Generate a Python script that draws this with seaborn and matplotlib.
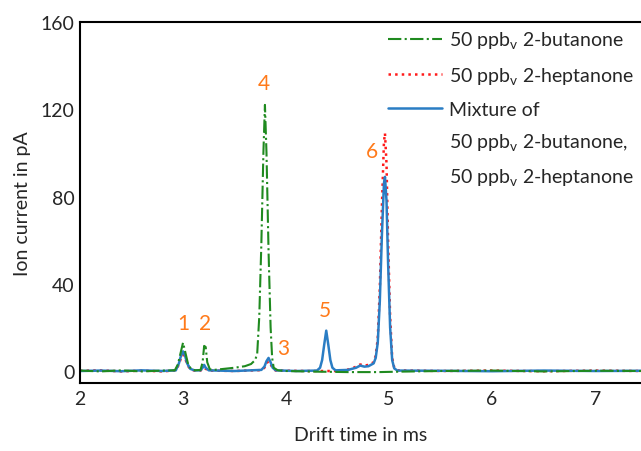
import pandas as pd
import matplotlib
matplotlib.use('Agg')
import matplotlib.pyplot as plt
import seaborn as sns
from matplotlib.lines import Line2D

# Spektren (Drift time in ms, Ion current in pA)
butanone_x = [2.0, 2.2, 2.4, 2.6, 2.8, 2.92, 2.95, 2.975, 3.0, 3.025, 3.05, 3.08, 3.12,
              3.17, 3.19, 3.205, 3.22, 3.235, 3.26, 3.3, 3.4, 3.5, 3.6, 3.66, 3.7,
              3.72, 3.74, 3.76, 3.78, 3.795, 3.81, 3.83, 3.85, 3.865, 3.88, 3.92,
              4.0, 4.3, 4.6, 4.9, 5.1, 5.5, 6.0, 6.5, 7.0, 7.45]
butanone_y = [0.2, -0.2, 0.3, -0.2, 0.2, 0.3, 3.0, 8.0, 13.0, 8.0, 3.0, 0.8, 0.3,
              0.5, 4.0, 11.5, 11.0, 4.0, 0.8, 0.5, 1.0, 1.5, 2.2, 3.2, 5.0,
              8.0, 25.0, 58.0, 100.0, 122.0, 100.0, 55.0, 20.0, 6.0, 1.5, 0.3,
              0.0, -0.3, -0.5, -0.5, -0.3, 0.0, 0.2, -0.2, 0.1, 0.0]

heptanone_x = [2.0, 2.2, 2.4, 2.6, 2.8, 2.93, 2.96, 2.98, 3.0, 3.02, 3.04, 3.07,
               3.11, 3.17, 3.19, 3.205, 3.22, 3.25, 3.5, 3.76, 3.79, 3.81, 3.83,
               3.85, 3.87, 3.9, 4.2, 4.5, 4.62, 4.68, 4.72, 4.76, 4.8, 4.85, 4.87,
               4.89, 4.91, 4.93, 4.95, 4.96, 4.975, 4.99, 5.01, 5.03, 5.05, 5.08,
               5.5, 6.0, 6.5, 7.0, 7.45]
heptanone_y = [0.1, 0.3, -0.2, 0.2, -0.2, 0.3, 3.0, 6.0, 7.5, 6.0, 3.0, 0.8,
               0.2, 0.2, 1.0, 1.5, 1.0, 0.2, 0.0, 0.4, 1.5, 3.5, 4.5,
               3.2, 1.2, 0.2, 0.0, 0.0, 0.8, 2.0, 3.0, 2.5, 2.8, 4.0, 7.0,
               15.0, 38.0, 75.0, 105.0, 109.0, 95.0, 60.0, 25.0, 6.0, 1.5, 0.3,
               0.0, 0.2, -0.1, 0.2, 0.0]

mixture_x = [2.0, 2.2, 2.4, 2.6, 2.8, 2.93, 2.96, 2.98, 3.0, 3.02, 3.04, 3.07,
             3.11, 3.17, 3.19, 3.205, 3.22, 3.25, 3.5, 3.76, 3.79, 3.81, 3.83,
             3.85, 3.87, 3.9, 4.1, 4.3, 4.33, 4.35, 4.37, 4.39, 4.41, 4.43, 4.45,
             4.48, 4.6, 4.68, 4.72, 4.76, 4.8, 4.85, 4.87, 4.89, 4.91, 4.93,
             4.95, 4.96, 4.975, 4.99, 5.01, 5.03, 5.05, 5.08, 5.5, 6.0, 6.5,
             7.0, 7.45]
mixture_y = [0.0, 0.2, -0.1, 0.3, 0.0, 0.3, 3.5, 7.0, 9.0, 7.0, 3.5, 1.0,
             0.3, 0.3, 1.5, 2.8, 1.5, 0.3, 0.0, 0.5, 2.0, 4.5, 6.0,
             4.0, 1.5, 0.3, 0.0, 0.2, 1.5, 5.0, 12.0, 18.5, 12.0, 5.0, 1.5,
             0.3, 0.5, 1.5, 2.5, 2.0, 2.2, 3.5, 6.0, 13.0, 32.0, 62.0,
             86.0, 89.0, 78.0, 50.0, 20.0, 5.0, 1.2, 0.2, 0.1, -0.1, 0.2,
             0.0, 0.1]

peak_labels = ['1', '2', '3', '4', '5', '6']
peak_label_x = [3.0, 3.21, 3.97, 3.78, 4.38, 4.83]
peak_label_y = [22, 22, 10.5, 132, 28, 101]

legend_labels = ['50 ppb$_\\mathrm{v}$ 2-butanone',
                 '50 ppb$_\\mathrm{v}$ 2-heptanone',
                 'Mixture of',
                 '50 ppb$_\\mathrm{v}$ 2-butanone,',
                 '50 ppb$_\\mathrm{v}$ 2-heptanone']

sns.set_style('white')
plt.rcParams['font.family'] = ['Lato', 'DejaVu Sans']
plt.rcParams['mathtext.fontset'] = 'custom'
plt.rcParams['mathtext.rm'] = 'Lato'
plt.rcParams['font.size'] = 14

fig = plt.figure(figsize=(6.41, 4.52), dpi=100)
ax = fig.add_axes([80 / 641, 1 - 384 / 452, 1 - 80 / 641, (384 - 23) / 452])

green = '#1f8a1f'
red = '#ff1a1a'
blue = '#2a7dc4'

df_b = pd.DataFrame({'x': butanone_x, 'y': butanone_y})
df_h = pd.DataFrame({'x': heptanone_x, 'y': heptanone_y})
df_m = pd.DataFrame({'x': mixture_x, 'y': mixture_y})

sns.lineplot(data=df_h, x='x', y='y', ax=ax, color=red, linestyle=':', linewidth=1.8)
sns.lineplot(data=df_m, x='x', y='y', ax=ax, color=blue, linestyle='-', linewidth=1.8)
sns.lineplot(data=df_b, x='x', y='y', ax=ax, color=green, linestyle='-.', linewidth=1.5)

for lab, px, py in zip(peak_labels, peak_label_x, peak_label_y):
    ax.text(px, py, lab, color='#ff7a1a', fontsize=15, ha='center', va='center')

ax.set_xlim(2, 7.445)
ax.set_ylim(-5.5, 160)
ax.set_xticks([2, 3, 4, 5, 6, 7])
ax.set_yticks([0, 40, 80, 120, 160])
ax.set_xlabel('Drift time in ms', fontsize=14, labelpad=14)
ax.set_ylabel('Ion current in pA', fontsize=14, labelpad=7)

for side in ['left', 'bottom', 'top']:
    ax.spines[side].set_linewidth(1.5)
    ax.spines[side].set_color('black')
ax.spines['right'].set_visible(False)
ax.tick_params(axis='y', direction='in', length=11, width=1.5, pad=4, labelsize=14)
ax.tick_params(axis='x', direction='in', length=8, width=1.5, pad=5, labelsize=14)

handles = [Line2D([], [], color=green, linestyle='-.', linewidth=1.5),
           Line2D([], [], color=red, linestyle=':', linewidth=1.8),
           Line2D([], [], color=blue, linestyle='-', linewidth=1.8),
           Line2D([], [], alpha=0),
           Line2D([], [], alpha=0)]
ax.legend(handles, legend_labels, loc='upper left', frameon=False,
          bbox_to_anchor=(388 / 641, 1 - 31 / 452), bbox_transform=fig.transFigure,
          borderpad=0, borderaxespad=0, handlelength=2.8, handletextpad=0.35,
          labelspacing=0.72, fontsize=14)

fig.savefig('out.png', dpi=100)
